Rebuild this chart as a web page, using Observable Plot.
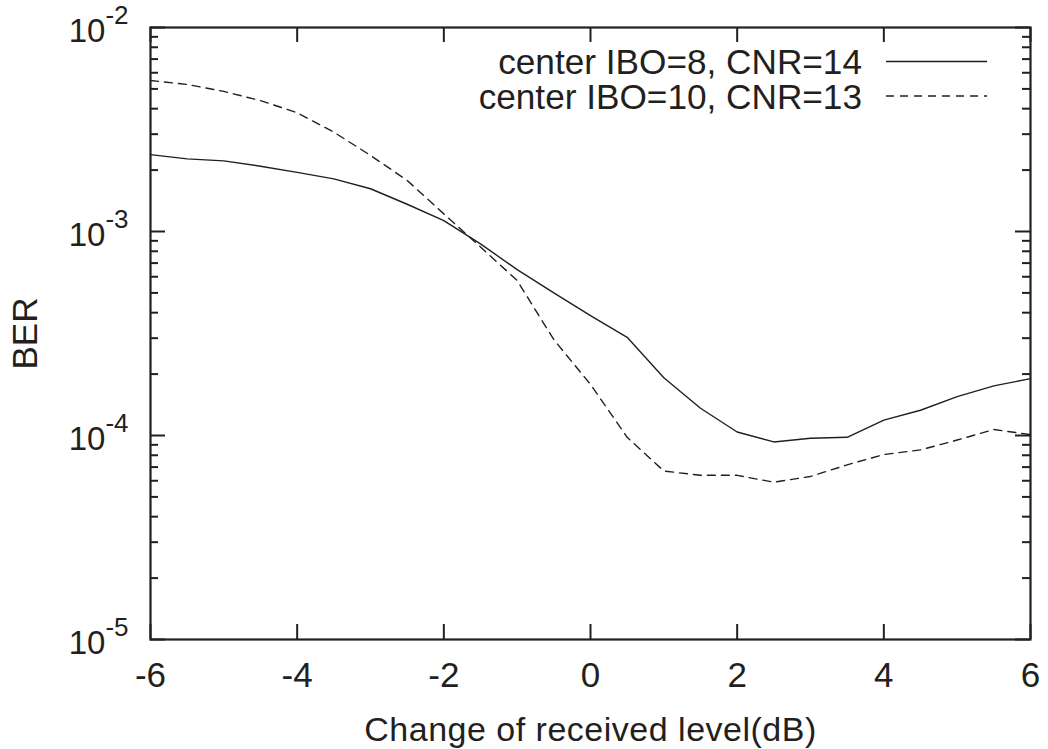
<!DOCTYPE html>
<html><head><meta charset="utf-8">
<script src="https://cdn.jsdelivr.net/npm/d3@7"></script>
<script src="https://cdn.jsdelivr.net/npm/@observablehq/plot@0.6"></script>
<style>
body{margin:0;background:#fff;}
#chart svg{font-family:"Liberation Sans", Arial, sans-serif;}
</style></head><body><div id="chart"></div>
<script>
const levels = [-6,-5.5,-5,-4.5,-4,-3.5,-3,-2.5,-2,-1.5,-1,-0.5,0,0.5,1,1.5,2,2.5,3,3.5,4,4.5,5,5.5,6];
const berIbo8 = [2.38e-3,2.27e-3,2.22e-3,2.09e-3,1.95e-3,1.81e-3,1.62e-3,1.36e-3,1.13e-3,8.7e-4,6.5e-4,5.0e-4,3.87e-4,3.03e-4,1.92e-4,1.36e-4,1.04e-4,9.3e-5,9.7e-5,9.8e-5,1.19e-4,1.33e-4,1.55e-4,1.75e-4,1.90e-4];
const berIbo10 = [5.5e-3,5.26e-3,4.86e-3,4.38e-3,3.82e-3,3.07e-3,2.36e-3,1.78e-3,1.22e-3,8.4e-4,5.75e-4,2.95e-4,1.78e-4,9.8e-5,6.7e-5,6.38e-5,6.38e-5,5.9e-5,6.3e-5,7.18e-5,8.07e-5,8.5e-5,9.5e-5,1.07e-4,1.01e-4];
const seriesNames = ["center IBO=8, CNR=14","center IBO=10, CNR=13"];
const seriesDash = [null, "8,6"];
const xTicks = [-6,-4,-2,0,2,4,6];
const yTicks = [1e-2,1e-3,1e-4,1e-5];
const yMinor = [];
for (const d of [1e-5,1e-4,1e-3]) for (let k=2;k<=9;k++) yMinor.push(k*d);

const ink = "#231f20";
const rows = [];
levels.forEach((x,i)=>{
  rows.push({x, ber: berIbo8[i], s: seriesNames[0]});
  rows.push({x, ber: berIbo10[i], s: seriesNames[1]});
});

const xMin = -6, xMax = 6, yMin = 1e-5, yMax = 1e-2;
const majorLen = 15, minorLen = 8;

const plot = Plot.plot({
  width: 1048, height: 749,
  marginLeft: 150, marginRight: 18, marginTop: 27, marginBottom: 110,
  style: {fontFamily: "'Liberation Sans', Arial, sans-serif", color: ink, background: "#fff"},
  x: {domain: [xMin, xMax]},
  y: {type: "log", domain: [yMin, yMax]},
  marks: [
    Plot.axisX({ticks: xTicks, tickSize: 0, tickPadding: 23, tickFormat: d => String(d),
      label: "Change of received level(dB)", labelAnchor: "center", labelOffset: 101, labelArrow: false}),
    Plot.axisY({ticks: yTicks, tickSize: 0, tickPadding: 22, dy: 3.5,
      tickFormat: d => "10^" + Math.round(Math.log10(d)),
      label: "BER", labelAnchor: "center", labelOffset: 138, labelArrow: false}),
    // inward ticks: bottom and top
    Plot.ruleX(xTicks, {x: d => d, y1: d => yMin, y2: d => yMin, insetTop: -majorLen, stroke: ink, strokeWidth: 2}),
    Plot.ruleX(xTicks, {x: d => d, y1: d => yMax, y2: d => yMax, insetBottom: -majorLen, stroke: ink, strokeWidth: 2}),
    // left and right major
    Plot.ruleY(yTicks, {y: d => d, x1: d => xMin, x2: d => xMin, insetRight: -majorLen, stroke: ink, strokeWidth: 2}),
    Plot.ruleY(yTicks, {y: d => d, x1: d => xMax, x2: d => xMax, insetLeft: -majorLen, stroke: ink, strokeWidth: 2}),
    // minor
    Plot.ruleY(yMinor, {y: d => d, x1: d => xMin, x2: d => xMin, insetRight: -minorLen, stroke: ink, strokeWidth: 2}),
    Plot.ruleY(yMinor, {y: d => d, x1: d => xMax, x2: d => xMax, insetLeft: -minorLen, stroke: ink, strokeWidth: 2}),
    Plot.line(rows.filter(r => r.s === seriesNames[0]), {x: "x", y: "ber", stroke: ink, strokeWidth: 1.4}),
    Plot.line(rows.filter(r => r.s === seriesNames[1]), {x: "x", y: "ber", stroke: ink, strokeWidth: 1.4, strokeDasharray: seriesDash[1]}),
    Plot.frame({stroke: ink, strokeWidth: 2.2})
  ]
});
document.getElementById("chart").appendChild(plot);

const svg = d3.select(plot);
// superscript exponents on y tick labels
svg.selectAll('g[aria-label="y-axis tick label"]').attr("font-size", 33);
svg.selectAll('g[aria-label="y-axis tick label"] text').attr("font-size", 33).each(function(){
  const t = d3.select(this);
  const [base, exp] = t.text().split("^");
  t.text(null);
  t.append("tspan").text(base);
  t.append("tspan").attr("dy", -18).attr("font-size", 26).text(exp);
});
svg.selectAll('g[aria-label="x-axis tick label"]').attr("font-size", 35);
svg.selectAll('g[aria-label="x-axis tick label"] text').attr("font-size", 35);
svg.selectAll('g[aria-label="x-axis label"], g[aria-label="x-axis label"] text').attr("font-size", 34).attr("letter-spacing", 0.5);
svg.selectAll('g[aria-label="y-axis label"], g[aria-label="y-axis label"] text').attr("font-size", 35);

// legend (top-right, inside frame)
const lg = svg.append("g").attr("font-size", 35.2).attr("fill", ink);
seriesNames.forEach((name, i) => {
  const yb = 74 + i * 34.5;
  lg.append("text").attr("x", 862).attr("y", yb).attr("text-anchor", "end").text(name);
  lg.append("line").attr("x1", 886).attr("x2", 987).attr("y1", yb - 12.5).attr("y2", yb - 12.5)
    .attr("stroke", ink).attr("stroke-width", 1.4).attr("stroke-dasharray", seriesDash[i]);
});
</script></body></html>
